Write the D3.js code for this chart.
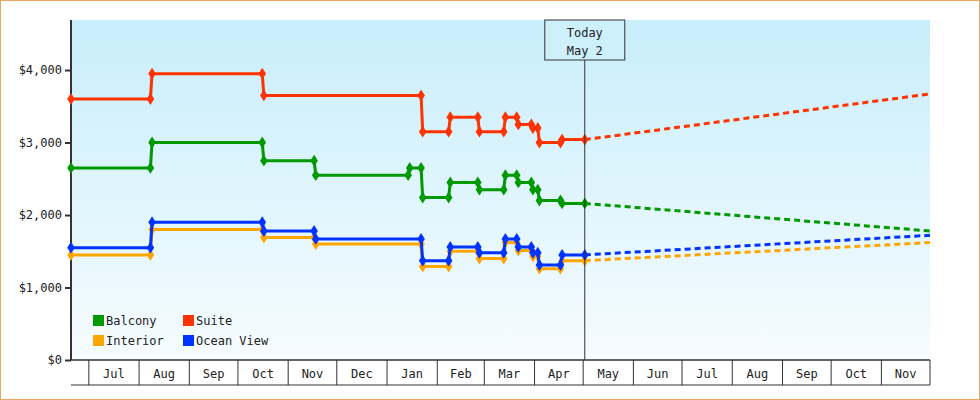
<!DOCTYPE html>
<html><head><meta charset="utf-8">
<script src="https://cdn.jsdelivr.net/npm/d3@7"></script>
<style>body{margin:0;background:#fff}svg{display:block}text{font-family:"DejaVu Sans Mono",monospace;font-size:12px;fill:#222}</style>
</head><body><svg id="c" width="980" height="400"></svg>
<script>
const startDate="2023-06-20", endDate="2024-12-01", today="2024-05-02";
const monthTicks=["2023-07-01","2023-08-01","2023-09-01","2023-10-01","2023-11-01","2023-12-01","2024-01-01","2024-02-01","2024-03-01","2024-04-01","2024-05-01","2024-06-01","2024-07-01","2024-08-01","2024-09-01","2024-10-01","2024-11-01","2024-12-01"];
const yTicks=[0,1000,2000,3000,4000];
const suiteDates=["2023-06-20","2023-08-09","2023-10-17","2024-01-23","2024-02-09","2024-02-27","2024-03-14","2024-03-22","2024-03-31","2024-04-04","2024-04-18"];
const suiteVals=[3600,3950,3650,3150,3350,3150,3350,3250,3200,3000,3040];
const balconyDates=["2023-06-20","2023-08-09","2023-10-17","2023-11-18","2024-01-15","2024-01-23","2024-02-09","2024-02-27","2024-03-14","2024-03-22","2024-03-31","2024-04-04","2024-04-18"];
const balconyVals=[2650,3000,2750,2550,2650,2240,2450,2350,2550,2450,2350,2200,2160];
const oceanDates=["2023-06-20","2023-08-09","2023-10-17","2023-11-18","2024-01-23","2024-02-09","2024-02-27","2024-03-14","2024-03-22","2024-03-31","2024-04-04","2024-04-18"];
const oceanVals=[1550,1900,1780,1670,1370,1560,1480,1670,1560,1480,1310,1450];
const interiorDates=["2023-06-20","2023-08-09","2023-10-17","2023-11-18","2024-01-23","2024-02-09","2024-02-27","2024-03-14","2024-03-22","2024-03-31","2024-04-04"];
const interiorVals=[1450,1800,1690,1600,1290,1500,1400,1620,1510,1430,1260];
const interiorExtra=[["2024-04-18",1370]];
const forecastEnd={Suite:3670,Balcony:1780,"Ocean View":1720,Interior:1620};
const seriesNames=["Balcony","Suite","Interior","Ocean View"];
const colors={Balcony:"#009900",Suite:"#ff3300",Interior:"#ffa500","Ocean View":"#0033ff"};

const P=d3.timeParse("%Y-%m-%d");
const svg=d3.select("#c");
const L=71,R=930,T=20,B=360;
const x=d3.scaleTime().domain([P(startDate),P(endDate)]).range([L,R]);
const y=d3.scaleLinear().domain([0,4690]).range([B,T]);
const defs=svg.append("defs");
const g=defs.append("linearGradient").attr("id","bg").attr("x1",0).attr("x2",0).attr("y1",0).attr("y2",1);
g.append("stop").attr("offset","0%").attr("stop-color","#c8eefb");
g.append("stop").attr("offset","100%").attr("stop-color","#f6fcff");
svg.append("rect").attr("x",0.5).attr("y",0.5).attr("width",979).attr("height",399).attr("fill","#fff").attr("stroke","#e8a860");
svg.append("rect").attr("x",L).attr("y",T).attr("width",R-L).attr("height",B-T).attr("fill","url(#bg)");

// y axis
const ya=svg.append("g").attr("transform",`translate(${L},0)`).call(d3.axisLeft(y).tickValues(yTicks).tickSize(6).tickFormat(d=>"$"+d3.format(",")(d)));
ya.select(".domain").attr("d",`M0,${T}V${B}`).attr("stroke","#333").attr("stroke-width",2);
ya.selectAll(".tick line").attr("stroke","#333").attr("stroke-width",2);
ya.selectAll("text").attr("fill","#333").style("font-size","12px");

// x axis boxes
svg.append("line").attr("x1",L).attr("x2",R).attr("y1",B).attr("y2",B).attr("stroke","#333").attr("stroke-width",1.5);
svg.append("line").attr("x1",L).attr("x2",R).attr("y1",385).attr("y2",385).attr("stroke","#333");
const mt=monthTicks.map(P);
mt.forEach((d,i)=>{
  svg.append("line").attr("x1",x(d)).attr("x2",x(d)).attr("y1",B).attr("y2",385).attr("stroke","#333");
  if(i<mt.length-1) svg.append("text").attr("x",(x(d)+x(mt[i+1]))/2).attr("y",378).attr("text-anchor","middle").text(d3.timeFormat("%b")(d));
});

const tD=P(today);
function build(dates,vals,extra){
  let segs=dates.map((d,i)=>[P(d),vals[i]]);
  (extra||[]).forEach(e=>segs.push([P(e[0]),e[1]]));
  const pts=[];
  segs.forEach((s,i)=>{
    const end=i<segs.length-1?d3.timeDay.offset(segs[i+1][0],-1):tD;
    pts.push([s[0],s[1]]);pts.push([end,s[1]]);
  });
  return pts;
}
const data={Suite:build(suiteDates,suiteVals),Balcony:build(balconyDates,balconyVals),"Ocean View":build(oceanDates,oceanVals),Interior:build(interiorDates,interiorVals,interiorExtra)};
const line=d3.line().x(d=>x(d[0])).y(d=>y(d[1]));
const order=["Interior","Ocean View","Balcony","Suite"];
order.forEach(n=>{
  const pts=data[n];
  const last=pts[pts.length-1];
  svg.append("path").attr("d",line([last,[P(endDate),forecastEnd[n]]])).attr("fill","none").attr("stroke",colors[n]).attr("stroke-width",3).attr("stroke-dasharray","6,4");
  svg.append("path").attr("d",line(pts)).attr("fill","none").attr("stroke",colors[n]).attr("stroke-width",3);
  svg.selectAll(null).data(pts).enter().append("path").attr("d",d3.symbol(d3.symbolDiamond,50)()).attr("transform",d=>`translate(${x(d[0])},${y(d[1])}) scale(1,0.9)`).attr("fill",colors[n]);
});

// today
svg.append("line").attr("x1",x(tD)).attr("x2",x(tD)).attr("y1",60).attr("y2",B).attr("stroke","#333");
svg.append("rect").attr("x",x(tD)-40).attr("y",20).attr("width",80).attr("height",40).attr("fill","#cdf0fb").attr("stroke","#333");
svg.append("text").attr("x",x(tD)).attr("y",37).attr("text-anchor","middle").text("Today");
svg.append("text").attr("x",x(tD)).attr("y",55).attr("text-anchor","middle").text(d3.timeFormat("%b %-d")(tD));

// legend
seriesNames.forEach((n,i)=>{
  const lx=93+(i%2)*90, ly=315+Math.floor(i/2)*20;
  svg.append("rect").attr("x",lx).attr("y",ly).attr("width",11).attr("height",11).attr("fill",colors[n]);
  svg.append("text").attr("x",lx+13).attr("y",ly+10).text(n);
});
</script></body></html>
